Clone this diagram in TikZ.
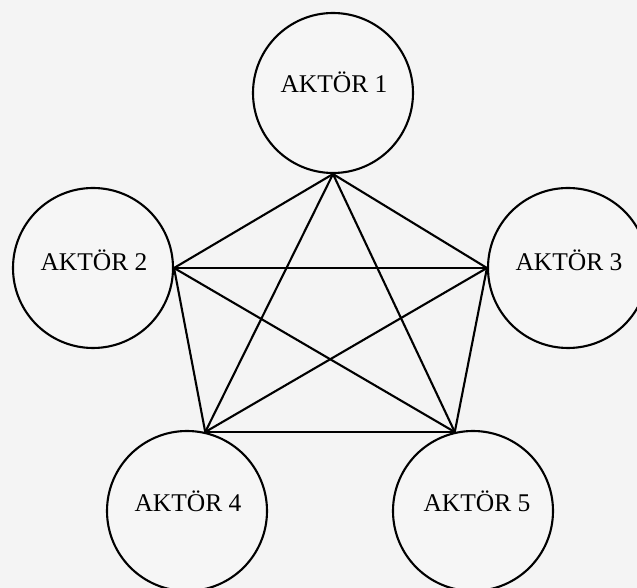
\documentclass[tikz,border=0pt]{standalone}
\usepackage{fontspec}
\setmainfont{Liberation Serif}
\definecolor{bg}{RGB}{244,244,244}
\definecolor{fillc}{RGB}{246,246,246}
\begin{document}
\begin{tikzpicture}[x=1pt,y=1pt,
  actor/.style={circle,draw=black,line width=2.1pt,minimum size=160pt,inner sep=0pt,fill=fillc},
  actortext/.style={anchor=base,font=\fontsize{25.5}{30}\selectfont,inner sep=0pt},
  link/.style={line width=2.1pt,line cap=round}]
\useasboundingbox (0,0) rectangle (637,588);
\clip (0,0) rectangle (637,588);
\fill[bg] (0,0) rectangle (637,588);
\node[actor] (a1) at (333,495) {};
\node[actor] (a2) at (93,320) {};
\node[actor] (a3) at (568,320) {};
\node[actor] (a4) at (187,77) {};
\node[actor] (a5) at (473,77) {};
\node[actortext] (t1) at (334,495) {AKTÖR 1};
\node[actortext] (t2) at (94,317) {AKTÖR 2};
\node[actortext] (t3) at (569,317) {AKTÖR 3};
\node[actortext] (t4) at (188,76) {AKTÖR 4};
\node[actortext] (t5) at (477,76) {AKTÖR 5};
\coordinate (j1) at (a1.south);
\coordinate (j2) at (a2.east);
\coordinate (j3) at (a3.west);
\coordinate (j4) at (a4.77);
\coordinate (j5) at (a5.103);
\draw[link] (j1) -- (j2);
\draw[link] (j1) -- (j3);
\draw[link] (j1) -- (j4);
\draw[link] (j1) -- (j5);
\draw[link] (j2) -- (j3);
\draw[link] (j2) -- (j4);
\draw[link] (j2) -- (j5);
\draw[link] (j3) -- (j4);
\draw[link] (j3) -- (j5);
\draw[link] (j4) -- (j5);
\end{tikzpicture}
\end{document}
